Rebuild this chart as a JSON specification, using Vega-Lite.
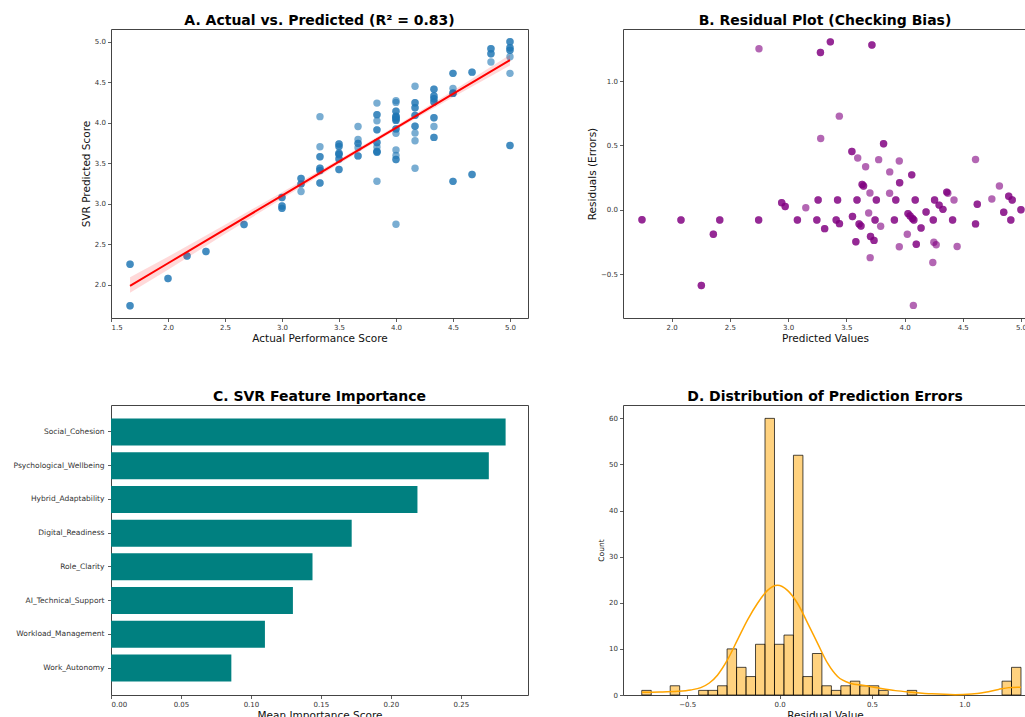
{
  "$schema": "https://vega.github.io/schema/vega-lite/v6.json",
  "background": "white",
  "padding": {"left": 12, "top": 13, "right": 0, "bottom": 0},
  "config": {
    "font": "DejaVu Sans",
    "view": {"stroke": "#444", "strokeWidth": 1},
    "axis": {
      "grid": false,
      "domain": false,
      "ticks": true,
      "tickColor": "#333",
      "tickSize": 3.5,
      "tickWidth": 0.8,
      "labelFontSize": 7,
      "labelColor": "#333",
      "labelPadding": 2,
      "titleFontSize": 10.5,
      "titleFontWeight": "normal",
      "titleColor": "#111",
      "titlePadding": 3
    },
    "title": {"fontSize": 14, "fontWeight": "bold", "color": "#000", "offset": 1, "anchor": "middle"}
  },
  "datasets": {
    "pts": [
      {"actual":1.667,"predicted":1.745,"residual":-0.078},{"actual":1.667,"predicted":1.745,"residual":-0.078},
      {"actual":2.0,"predicted":2.08,"residual":-0.08},{"actual":2.0,"predicted":2.08,"residual":-0.08},
      {"actual":1.667,"predicted":2.255,"residual":-0.588},{"actual":1.667,"predicted":2.255,"residual":-0.588},
      {"actual":2.167,"predicted":2.358,"residual":-0.191},{"actual":2.167,"predicted":2.358,"residual":-0.191},
      {"actual":2.333,"predicted":2.413,"residual":-0.08},{"actual":2.333,"predicted":2.413,"residual":-0.08},
      {"actual":4.0,"predicted":2.75,"residual":1.25},
      {"actual":2.667,"predicted":2.747,"residual":-0.08},{"actual":2.667,"predicted":2.747,"residual":-0.08},
      {"actual":3.0,"predicted":2.945,"residual":0.055},{"actual":3.0,"predicted":2.945,"residual":0.055},
      {"actual":3.0,"predicted":2.975,"residual":0.025},{"actual":3.0,"predicted":2.975,"residual":0.025},
      {"actual":3.167,"predicted":3.152,"residual":0.015},
      {"actual":3.0,"predicted":3.08,"residual":-0.08},{"actual":3.0,"predicted":3.08,"residual":-0.08},
      {"actual":3.167,"predicted":3.247,"residual":-0.08},{"actual":3.167,"predicted":3.247,"residual":-0.08},
      {"actual":3.333,"predicted":3.258,"residual":0.075},{"actual":3.333,"predicted":3.258,"residual":0.075},
      {"actual":4.5,"predicted":3.278,"residual":1.222},{"actual":4.5,"predicted":3.278,"residual":1.222},
      {"actual":3.833,"predicted":3.28,"residual":0.553},
      {"actual":3.167,"predicted":3.314,"residual":-0.147},{"actual":3.167,"predicted":3.314,"residual":-0.147},
      {"actual":4.667,"predicted":3.363,"residual":1.304},{"actual":4.667,"predicted":3.363,"residual":1.304},
      {"actual":3.333,"predicted":3.413,"residual":-0.08},{"actual":3.333,"predicted":3.413,"residual":-0.08},
      {"actual":3.5,"predicted":3.425,"residual":0.075},{"actual":3.5,"predicted":3.425,"residual":0.075},
      {"actual":3.333,"predicted":3.441,"residual":-0.108},{"actual":3.333,"predicted":3.441,"residual":-0.108},
      {"actual":4.167,"predicted":3.44,"residual":0.727},
      {"actual":4.0,"predicted":3.548,"residual":0.452},{"actual":4.0,"predicted":3.548,"residual":0.452},
      {"actual":3.5,"predicted":3.553,"residual":-0.053},{"actual":3.5,"predicted":3.553,"residual":-0.053},
      {"actual":3.333,"predicted":3.582,"residual":-0.249},{"actual":3.333,"predicted":3.582,"residual":-0.249},
      {"actual":3.667,"predicted":3.592,"residual":0.075},{"actual":3.667,"predicted":3.592,"residual":0.075},
      {"actual":4.0,"predicted":3.598,"residual":0.402},
      {"actual":3.5,"predicted":3.61,"residual":-0.11},{"actual":3.5,"predicted":3.61,"residual":-0.11},
      {"actual":3.5,"predicted":3.626,"residual":-0.126},{"actual":3.5,"predicted":3.626,"residual":-0.126},
      {"actual":3.833,"predicted":3.636,"residual":0.197},{"actual":3.833,"predicted":3.636,"residual":0.197},
      {"actual":3.833,"predicted":3.648,"residual":0.185},{"actual":3.833,"predicted":3.648,"residual":0.185},
      {"actual":4.0,"predicted":3.666,"residual":0.334},
      {"actual":3.667,"predicted":3.692,"residual":-0.025},
      {"actual":3.833,"predicted":3.703,"residual":0.13},
      {"actual":3.333,"predicted":3.705,"residual":-0.372},
      {"actual":3.5,"predicted":3.708,"residual":-0.208},{"actual":3.5,"predicted":3.708,"residual":-0.208},
      {"actual":5.0,"predicted":3.72,"residual":1.28},{"actual":5.0,"predicted":3.72,"residual":1.28},
      {"actual":3.5,"predicted":3.738,"residual":-0.238},{"actual":3.5,"predicted":3.738,"residual":-0.238},
      {"actual":3.667,"predicted":3.747,"residual":-0.08},{"actual":3.667,"predicted":3.747,"residual":-0.08},
      {"actual":3.833,"predicted":3.758,"residual":0.075},{"actual":3.833,"predicted":3.758,"residual":0.075},
      {"actual":4.167,"predicted":3.778,"residual":0.389},
      {"actual":3.667,"predicted":3.795,"residual":-0.128},
      {"actual":4.333,"predicted":3.82,"residual":0.513},{"actual":4.333,"predicted":3.82,"residual":0.513},
      {"actual":4.167,"predicted":3.873,"residual":0.294},
      {"actual":4.0,"predicted":3.872,"residual":0.128},
      {"actual":3.833,"predicted":3.913,"residual":-0.08},{"actual":3.833,"predicted":3.913,"residual":-0.08},
      {"actual":4.0,"predicted":3.925,"residual":0.075},{"actual":4.0,"predicted":3.925,"residual":0.075},
      {"actual":4.333,"predicted":3.955,"residual":0.378},
      {"actual":4.167,"predicted":3.958,"residual":0.209},{"actual":4.167,"predicted":3.958,"residual":0.209},
      {"actual":3.667,"predicted":3.955,"residual":-0.288},
      {"actual":3.833,"predicted":4.024,"residual":-0.191},
      {"actual":4.0,"predicted":4.03,"residual":-0.03},{"actual":4.0,"predicted":4.03,"residual":-0.03},
      {"actual":4.0,"predicted":4.048,"residual":-0.048},{"actual":4.0,"predicted":4.048,"residual":-0.048},
      {"actual":4.333,"predicted":4.062,"residual":0.271},{"actual":4.333,"predicted":4.062,"residual":0.271},
      {"actual":4.0,"predicted":4.068,"residual":-0.068},{"actual":4.0,"predicted":4.068,"residual":-0.068},
      {"actual":3.333,"predicted":4.076,"residual":-0.743},
      {"actual":4.0,"predicted":4.08,"residual":-0.08},{"actual":4.0,"predicted":4.08,"residual":-0.08},
      {"actual":4.167,"predicted":4.092,"residual":0.075},{"actual":4.167,"predicted":4.092,"residual":0.075},
      {"actual":3.833,"predicted":4.101,"residual":-0.268},{"actual":3.833,"predicted":4.101,"residual":-0.268},
      {"actual":4.0,"predicted":4.142,"residual":-0.142},{"actual":4.0,"predicted":4.142,"residual":-0.142},
      {"actual":4.167,"predicted":4.185,"residual":-0.018},{"actual":4.167,"predicted":4.185,"residual":-0.018},
      {"actual":4.167,"predicted":4.247,"residual":-0.08},{"actual":4.167,"predicted":4.247,"residual":-0.08},
      {"actual":3.833,"predicted":4.243,"residual":-0.41},
      {"actual":4.0,"predicted":4.252,"residual":-0.252},
      {"actual":4.333,"predicted":4.258,"residual":0.075},{"actual":4.333,"predicted":4.258,"residual":0.075},
      {"actual":4.0,"predicted":4.272,"residual":-0.272},
      {"actual":4.333,"predicted":4.297,"residual":0.036},{"actual":4.333,"predicted":4.297,"residual":0.036},
      {"actual":4.333,"predicted":4.33,"residual":0.003},{"actual":4.333,"predicted":4.33,"residual":0.003},
      {"actual":4.5,"predicted":4.363,"residual":0.137},{"actual":4.5,"predicted":4.363,"residual":0.137},
      {"actual":4.5,"predicted":4.372,"residual":0.128},
      {"actual":4.333,"predicted":4.413,"residual":-0.08},{"actual":4.333,"predicted":4.413,"residual":-0.08},
      {"actual":4.5,"predicted":4.425,"residual":0.075},
      {"actual":4.167,"predicted":4.452,"residual":-0.285},
      {"actual":5.0,"predicted":4.61,"residual":0.39},
      {"actual":4.5,"predicted":4.61,"residual":-0.11},{"actual":4.5,"predicted":4.61,"residual":-0.11},
      {"actual":4.667,"predicted":4.625,"residual":0.042},{"actual":4.667,"predicted":4.625,"residual":0.042},
      {"actual":4.833,"predicted":4.75,"residual":0.083},
      {"actual":5.0,"predicted":4.815,"residual":0.185},
      {"actual":4.833,"predicted":4.852,"residual":-0.019},{"actual":4.833,"predicted":4.852,"residual":-0.019},
      {"actual":5.0,"predicted":4.895,"residual":0.105},{"actual":5.0,"predicted":4.895,"residual":0.105},
      {"actual":4.833,"predicted":4.913,"residual":-0.08},{"actual":4.833,"predicted":4.913,"residual":-0.08},
      {"actual":5.0,"predicted":4.925,"residual":0.075},{"actual":5.0,"predicted":4.925,"residual":0.075},
      {"actual":5.0,"predicted":5.0,"residual":0.0},{"actual":5.0,"predicted":5.0,"residual":0.0}
    ],
    "fit": [
      {"x":1.667,"fit":1.99,"lo":1.905,"hi":2.095},
      {"x":2.0,"fit":2.268,"lo":2.188,"hi":2.348},
      {"x":2.5,"fit":2.686,"lo":2.628,"hi":2.744},
      {"x":3.0,"fit":3.103,"lo":3.063,"hi":3.143},
      {"x":3.5,"fit":3.521,"lo":3.493,"hi":3.549},
      {"x":4.0,"fit":3.938,"lo":3.913,"hi":3.963},
      {"x":4.5,"fit":4.356,"lo":4.316,"hi":4.396},
      {"x":5.0,"fit":4.773,"lo":4.708,"hi":4.838}
    ],
    "imp": [
      {"feature":"Social_Cohesion","importance":0.282},
      {"feature":"Psychological_Wellbeing","importance":0.270},
      {"feature":"Hybrid_Adaptability","importance":0.219},
      {"feature":"Digital_Readiness","importance":0.172},
      {"feature":"Role_Clarity","importance":0.144},
      {"feature":"AI_Technical_Support","importance":0.130},
      {"feature":"Workload_Management","importance":0.110},
      {"feature":"Work_Autonomy","importance":0.086}
    ],
    "hist": [
      {"bin_start":-0.7455,"bin_end":-0.6942,"count":1},
      {"bin_start":-0.5916,"bin_end":-0.5403,"count":2},
      {"bin_start":-0.4377,"bin_end":-0.3864,"count":1},
      {"bin_start":-0.3864,"bin_end":-0.3351,"count":1},
      {"bin_start":-0.3351,"bin_end":-0.2838,"count":2},
      {"bin_start":-0.2838,"bin_end":-0.2325,"count":10},
      {"bin_start":-0.2325,"bin_end":-0.1812,"count":6},
      {"bin_start":-0.1812,"bin_end":-0.1299,"count":4},
      {"bin_start":-0.1299,"bin_end":-0.0786,"count":11},
      {"bin_start":-0.0786,"bin_end":-0.0273,"count":60},
      {"bin_start":-0.0273,"bin_end":0.024,"count":11},
      {"bin_start":0.024,"bin_end":0.0753,"count":13},
      {"bin_start":0.0753,"bin_end":0.1266,"count":52},
      {"bin_start":0.1266,"bin_end":0.1779,"count":4},
      {"bin_start":0.1779,"bin_end":0.2292,"count":9},
      {"bin_start":0.2292,"bin_end":0.2805,"count":2},
      {"bin_start":0.2805,"bin_end":0.3318,"count":1},
      {"bin_start":0.3318,"bin_end":0.3831,"count":2},
      {"bin_start":0.3831,"bin_end":0.4344,"count":3},
      {"bin_start":0.4344,"bin_end":0.4857,"count":2},
      {"bin_start":0.4857,"bin_end":0.537,"count":2},
      {"bin_start":0.537,"bin_end":0.5883,"count":1},
      {"bin_start":0.6909,"bin_end":0.7422,"count":1},
      {"bin_start":1.2039,"bin_end":1.2552,"count":3},
      {"bin_start":1.2552,"bin_end":1.3065,"count":6}
    ],
    "kde": [
      {"residual":-0.745,"density":0.6},{"residual":-0.65,"density":0.65},{"residual":-0.55,"density":0.8},
      {"residual":-0.48,"density":1.1},{"residual":-0.426,"density":1.6},{"residual":-0.38,"density":2.6},
      {"residual":-0.336,"density":4.3},{"residual":-0.282,"density":7.6},{"residual":-0.227,"density":12.0},
      {"residual":-0.173,"density":16.3},{"residual":-0.119,"density":19.9},{"residual":-0.065,"density":22.7},
      {"residual":-0.011,"density":23.8},{"residual":0.043,"density":22.7},{"residual":0.097,"density":19.9},
      {"residual":0.152,"density":15.6},{"residual":0.206,"density":11.2},{"residual":0.26,"density":6.9},
      {"residual":0.314,"density":4.0},{"residual":0.386,"density":2.5},{"residual":0.45,"density":2.1},
      {"residual":0.537,"density":1.5},{"residual":0.627,"density":0.95},{"residual":0.717,"density":0.6},
      {"residual":0.825,"density":0.25},{"residual":0.95,"density":0.08},{"residual":1.04,"density":0.2},
      {"residual":1.113,"density":0.6},{"residual":1.185,"density":1.2},{"residual":1.24,"density":1.6},
      {"residual":1.306,"density":1.7}
    ]
  },
  "columns": 2,
  "bounds": "flush",
  "spacing": {"row": 87, "column": 95},
  "concat": [
    {
      "width": 417,
      "height": 289,
      "title": "A. Actual vs. Predicted (R² = 0.83)",
      "layer": [
        {
          "data": {"name": "pts"},
          "mark": {"type": "circle", "size": 55, "color": "#1f77b4", "opacity": 0.6},
          "encoding": {
            "x": {"field": "actual", "type": "quantitative", "scale": {"domain": [1.5, 5.158], "nice": false, "zero": false}, "axis": {"values": [1.5, 2.0, 2.5, 3.0, 3.5, 4.0, 4.5, 5.0], "format": ".1f", "title": "Actual Performance Score"}},
            "y": {"field": "predicted", "type": "quantitative", "scale": {"domain": [1.593, 5.157], "nice": false, "zero": false}, "axis": {"values": [2.0, 2.5, 3.0, 3.5, 4.0, 4.5, 5.0], "format": ".1f", "title": "SVR Predicted Score"}}
          }
        },
        {
          "data": {"name": "fit"},
          "mark": {"type": "area", "color": "red", "opacity": 0.15},
          "encoding": {
            "x": {"field": "x", "type": "quantitative"},
            "y": {"field": "lo", "type": "quantitative"},
            "y2": {"field": "hi"}
          }
        },
        {
          "data": {"name": "fit"},
          "mark": {"type": "line", "color": "red", "strokeWidth": 2},
          "encoding": {
            "x": {"field": "x", "type": "quantitative"},
            "y": {"field": "fit", "type": "quantitative"}
          }
        }
      ]
    },
    {
      "width": 404,
      "height": 289,
      "title": "B. Residual Plot (Checking Bias)",
      "layer": [
        {
          "data": {"name": "pts"},
          "mark": {"type": "circle", "size": 55, "color": "purple", "opacity": 0.6},
          "encoding": {
            "x": {"field": "predicted", "type": "quantitative", "scale": {"domain": [1.582, 5.052], "nice": false, "zero": false}, "axis": {"values": [2.0, 2.5, 3.0, 3.5, 4.0, 4.5, 5.0], "format": ".1f", "title": "Predicted Values"}},
            "y": {"field": "residual", "type": "quantitative", "scale": {"domain": [-0.841, 1.404], "nice": false, "zero": false}, "axis": {"values": [-0.5, 0.0, 0.5, 1.0], "format": ".1f", "title": "Residuals (Errors)"}}
          }
        },
        {
          "mark": {"type": "rule", "color": "black", "strokeWidth": 1.5, "strokeDash": [7.5, 3.2]},
          "encoding": {"y": {"datum": 0}}
        }
      ]
    },
    {
      "width": 417,
      "height": 290,
      "title": "C. SVR Feature Importance",
      "data": {"name": "imp"},
      "mark": {"type": "bar", "color": "#008080"},
      "encoding": {
        "y": {"field": "feature", "type": "nominal", "sort": {"field": "importance", "order": "descending"}, "scale": {"paddingInner": 0.2, "paddingOuter": 0.4}, "axis": {"title": null, "labelFontSize": 7.5, "labelPadding": 3.5}},
        "x": {"field": "importance", "type": "quantitative", "scale": {"domain": [0, 0.298], "nice": false}, "axis": {"values": [0, 0.05, 0.1, 0.15, 0.2, 0.25], "format": ".2f", "title": "Mean Importance Score"}}
      }
    },
    {
      "width": 404,
      "height": 290,
      "title": "D. Distribution of Prediction Errors",
      "layer": [
        {
          "data": {"name": "hist"},
          "mark": {"type": "rect", "fill": "#FFA500", "fillOpacity": 0.5, "stroke": "#000", "strokeOpacity": 0.7, "strokeWidth": 1},
          "encoding": {
            "x": {"field": "bin_start", "type": "quantitative", "scale": {"domain": [-0.847, 1.339], "nice": false, "zero": false}, "axis": {"values": [-0.5, 0.0, 0.5, 1.0], "format": ".1f", "title": "Residual Value"}},
            "x2": {"field": "bin_end"},
            "y": {"field": "count", "type": "quantitative", "scale": {"domain": [0, 62.9], "nice": false}, "axis": {"values": [0, 10, 20, 30, 40, 50, 60], "title": "Count", "titleFontSize": 7.5}},
            "y2": {"datum": 0}
          }
        },
        {
          "data": {"name": "kde"},
          "mark": {"type": "line", "color": "#FFA500", "strokeWidth": 1.5, "interpolate": "monotone"},
          "encoding": {
            "x": {"field": "residual", "type": "quantitative"},
            "y": {"field": "density", "type": "quantitative"}
          }
        }
      ]
    }
  ]
}
